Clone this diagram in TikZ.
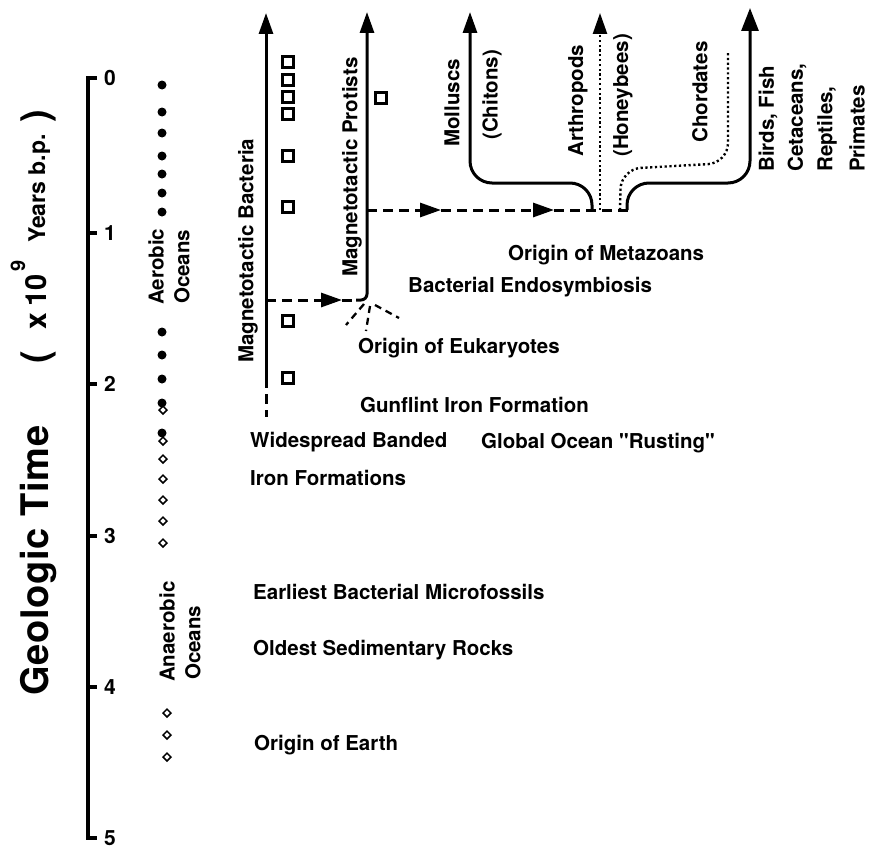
\documentclass[tikz,border=0pt]{standalone}
\usepackage{fontspec}
\setmainfont{TeX Gyre Heros}
\newfontfamily\plainq{TeX Gyre Heros}[Ligatures=TeXOff]
\usetikzlibrary{arrows.meta,shapes.geometric}
\begin{document}
\begin{tikzpicture}[x=1pt,y=-1pt,
  lbl/.style={font=\fontsize{20.5}{22}\selectfont\bfseries, inner sep=0pt},
  hlbl/.style={lbl, anchor=west},
  vlbl/.style={lbl, rotate=90, anchor=west},
  num/.style={font=\fontsize{21}{22}\selectfont\bfseries, inner sep=0pt, anchor=west},
  ttl/.style={rotate=90, anchor=base west, inner sep=0pt},
  axisline/.style={line width=3.2pt},
  mainline/.style={line width=3pt},
  dashline/.style={line width=3pt, dash pattern=on 10pt off 6pt},
  dotline/.style={line width=2.4pt, dash pattern=on 2.2pt off 2.6pt},
  rayline/.style={line width=2.3pt, dash pattern=on 7pt off 5pt},
  tip/.style={-{Triangle[length=21pt,width=14pt]}},
  bigtip/.style={-{Triangle[length=23pt,width=17pt]}},
  sq/.style={draw, rectangle, minimum size=11pt, inner sep=0pt, line width=2.3pt},
  dm/.style={draw, diamond, minimum size=8.5pt, inner sep=0pt, line width=1.5pt},
]
\useasboundingbox (0,0) rectangle (870,851);

% ---------- time axis ----------
\foreach \i/\y in {0/78,1/233,2/384,3/536,4/687,5/838}{
  \coordinate (a\i) at (88,\y);
  \coordinate (t\i) at (97,\y);
  \node[num] (n\i) at (104,\y) {\i};
}
\draw[axisline] (t0) -- (a0) -- (a5) -- (t5);
\foreach \i in {1,2,3,4}{ \draw[axisline] (a\i) -- (t\i); }

% ---------- axis title ----------
\node[ttl] (title1) at (48,696)
  {\bfseries\fontsize{38}{38}\selectfont\addfontfeature{LetterSpace=2}Geologic Time};
\node[ttl] (title2) at (48,364) {\bfseries\fontsize{38}{38}\selectfont (};
\node[ttl] (title3) at (46,330) {\bfseries\fontsize{30}{30}\selectfont x};
\node[ttl] (title4) at (46,307) {\bfseries\fontsize{29}{29}\selectfont 10};
\node[ttl] (title5) at (25,272) {\bfseries\fontsize{20}{20}\selectfont 9};
\node[ttl] (title6) at (45,243) {\bfseries\fontsize{23}{23}\selectfont Years b.p.};
\node[ttl] (title7) at (48,123) {\bfseries\fontsize{38}{38}\selectfont )};

% ---------- ocean chemistry column ----------
\foreach \y in {85,112,133,156,174,193,212,332,355,379,403,433}{
  \fill (162,\y) circle (4.5pt);
}
\foreach \y [count=\k] in {410,441,459,479,500,521,543}{
  \node[dm] (dmu\k) at (163,\y) {};
}
\foreach \y [count=\k] in {713,735,757}{
  \node[dm] (dml\k) at (167,\y) {};
}
\node[vlbl] (aer1) at (156,305) {Aerobic};
\node[vlbl] (aer2) at (182,304) {Oceans};
\node[vlbl] (ana1) at (167,682) {Anaerobic};
\node[vlbl] (ana2) at (193,680) {Oceans};

% ---------- magnetotactic bacteria ----------
\coordinate (bacTop) at (266,13);
\coordinate (bacBr) at (266,300);
\coordinate (bacEnd) at (266,378);
\coordinate (bacBot) at (266,417);
\draw[mainline, tip] (bacEnd) -- (bacTop);
\draw[dashline] (bacEnd) -- (bacBot);
\node[vlbl] (bacLbl) at (248,363) {Magnetotactic Bacteria};
\foreach \y [count=\k] in {62,80,97,114,156,207,321,378}{
  \node[sq] (sqb\k) at (288,\y) {};
}

% ---------- magnetotactic protists ----------
\coordinate (proFoot) at (356,300);
\coordinate (proCorner) at (367,300);
\coordinate (proTop) at (367,12);
\coordinate (proBr) at (367,210);
\draw[mainline, tip, rounded corners=6pt] (proFoot) -- (proCorner) -- (proTop);
\node[vlbl] (proLbl) at (352,277) {Magnetotactic Protists};
\node[sq] (sqp) at (381,98) {};

% endosymbiosis arrow
\coordinate (ah0) at (342,300);
\draw[dashline, tip] (bacBr) -- (ah0);
\draw[dashline] (ah0) -- (proFoot);

% eukaryote radiation
\coordinate (r0) at (364,304);
\coordinate (r1) at (346,325);
\coordinate (m0) at (370,306);
\coordinate (m1) at (366,331);
\coordinate (s0) at (375,305);
\coordinate (s1) at (399,318);
\draw[rayline] (r0) -- (r1);
\draw[rayline] (m0) -- (m1);
\draw[rayline] (s0) -- (s1);

% to metazoans
\coordinate (ah1) at (441,210);
\coordinate (ah2) at (554,210);
\coordinate (metaEnd) at (629,210);
\draw[dashline, tip] (proBr) -- (ah1);
\draw[dashline, tip] (ah1) -- (ah2);
\draw[dashline] (ah2) -- (metaEnd);

% ---------- metazoan tree ----------
\coordinate (molBot) at (592,210);
\coordinate (mol1) at (592,183);
\coordinate (mol2) at (470,183);
\coordinate (molTop) at (470,12);
\draw[mainline, tip, rounded corners=22pt] (molBot) -- (mol1) -- (mol2) -- (molTop);

\coordinate (artBot) at (600,210);
\coordinate (artTop) at (600,13);
\draw[dotline, tip] (artBot) -- (artTop);

\coordinate (chBot) at (620,210);
\coordinate (ch1) at (621,169);
\coordinate (ch2) at (728,163);
\coordinate (chTop) at (728,52);
\draw[dotline, rounded corners=20pt] (chBot) -- (ch1) -- (ch2) -- (chTop);

\coordinate (biBot) at (627,210);
\coordinate (bi1) at (627,183);
\coordinate (bi2) at (750,183);
\coordinate (biTop) at (750,8);
\draw[mainline, bigtip, rounded corners=22pt] (biBot) -- (bi1) -- (bi2) -- (biTop);

\node[vlbl] (lMol) at (452,147) {Molluscs};
\node[vlbl] (lChi) at (492,140) {(Chitons)};
\node[vlbl] (lArt) at (578,157) {Arthropods};
\node[vlbl] (lHon) at (623,157) {(Honeybees)};
\node[vlbl] (lCho) at (700,143) {Chordates};
\node[vlbl] (lBir) at (768,172) {Birds, Fish};
\node[vlbl] (lCet) at (797,172) {Cetaceans,};
\node[vlbl] (lRep) at (827,172) {Reptiles,};
\node[vlbl] (lPri) at (857,172) {Primates};

% ---------- event labels ----------
\node[hlbl] (eMeta) at (508,255) {Origin of Metazoans};
\node[hlbl] (eEndo) at (408,287) {Bacterial Endosymbiosis};
\node[hlbl] (eEuk) at (358,348) {Origin of Eukaryotes};
\node[hlbl] (eGun) at (360,405) {Gunflint Iron Formation};
\node[hlbl] (eWid) at (250,442) {Widespread Banded};
\node[hlbl] (eGlo) at (481,443) {Global Ocean {\plainq "}Rusting{\plainq "}};
\node[hlbl] (eIron) at (250,478) {Iron Formations};
\node[hlbl] (eEarl) at (253,592) {Earliest Bacterial Microfossils};
\node[hlbl] (eOld) at (253,650) {Oldest Sedimentary Rocks};
\node[hlbl] (eOri) at (254,745) {Origin of Earth};
\end{tikzpicture}
\end{document}
